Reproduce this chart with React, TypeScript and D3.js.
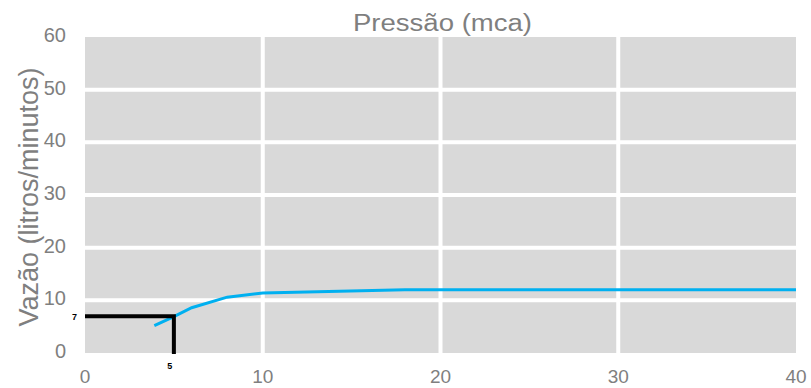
import React from "react";
import * as d3 from "d3";

const pressure = [3.9, 5, 6, 8, 10, 18, 40];
const flow = [5.2, 6.9, 8.6, 10.6, 11.4, 12, 12];
const xTicks = [0, 10, 20, 30, 40];
const yTicks = [0, 10, 20, 30, 40, 50, 60];
const markX = 5;
const markY = 7;

const W = 811, H = 388;
const M = { left: 85, right: 15, top: 37, bottom: 35 };

export default function App() {
  const x = d3.scaleLinear().domain([0, 40]).range([M.left, W - M.right]);
  const y = d3.scaleLinear().domain([0, 60]).range([H - M.bottom, M.top]);
  const line = d3.line<number>().x((_, i) => x(pressure[i])).y((d) => y(d));
  const gray = "#7f7f7f";
  const font = "Liberation Sans, Arial, sans-serif";
  return (
    <svg width={W} height={H} style={{ position: "absolute", left: 0, top: 0 }}>
      <rect x={x(0)} y={y(60)} width={x(40) - x(0)} height={y(0) - y(60)} fill="#d9d9d9" />
      {yTicks.filter((t) => t > 0 && t < 60).map((t) => (
        <line key={"h" + t} x1={x(0)} x2={x(40)} y1={y(t)} y2={y(t)} stroke="#fff" strokeWidth={4} />
      ))}
      {xTicks.filter((t) => t > 0 && t < 40).map((t) => (
        <line key={"v" + t} x1={x(t)} x2={x(t)} y1={y(0)} y2={y(60)} stroke="#fff" strokeWidth={4} />
      ))}
      {yTicks.map((t) => (
        <text key={"yl" + t} x={66} y={y(t) + 5} textAnchor="end" fontSize={20} fill={gray} fontFamily={font}>{t}</text>
      ))}
      {xTicks.map((t) => (
        <text key={"xl" + t} x={x(t)} y={383} textAnchor="middle" fontSize={19} fill={gray} fontFamily={font}>{t}</text>
      ))}
      <text x={353} y={31} textLength={179} lengthAdjust="spacingAndGlyphs" fontSize={23} fill={gray} fontFamily={font}>Pressão (mca)</text>
      <text transform={`translate(38,197) rotate(-90)`} textAnchor="middle" fontSize={27} fill={gray} fontFamily={font}>Vazão (litros/minutos)</text>
      <path d={line(flow) || ""} fill="none" stroke="#00b0f0" strokeWidth={3} />
      <path d={`M${x(0)},${y(markY)}H${x(markX)}V${y(0) + 1}`} fill="none" stroke="#000" strokeWidth={4} />
      <text x={x(0) - 8} y={y(markY) + 4} textAnchor="end" fontSize={9} fontWeight="bold" fill="#000" fontFamily={font}>{markY}</text>
      <text x={x(markX) - 4} y={369} textAnchor="middle" fontSize={9} fontWeight="bold" fill="#000" fontFamily={font}>{markX}</text>
    </svg>
  );
}
